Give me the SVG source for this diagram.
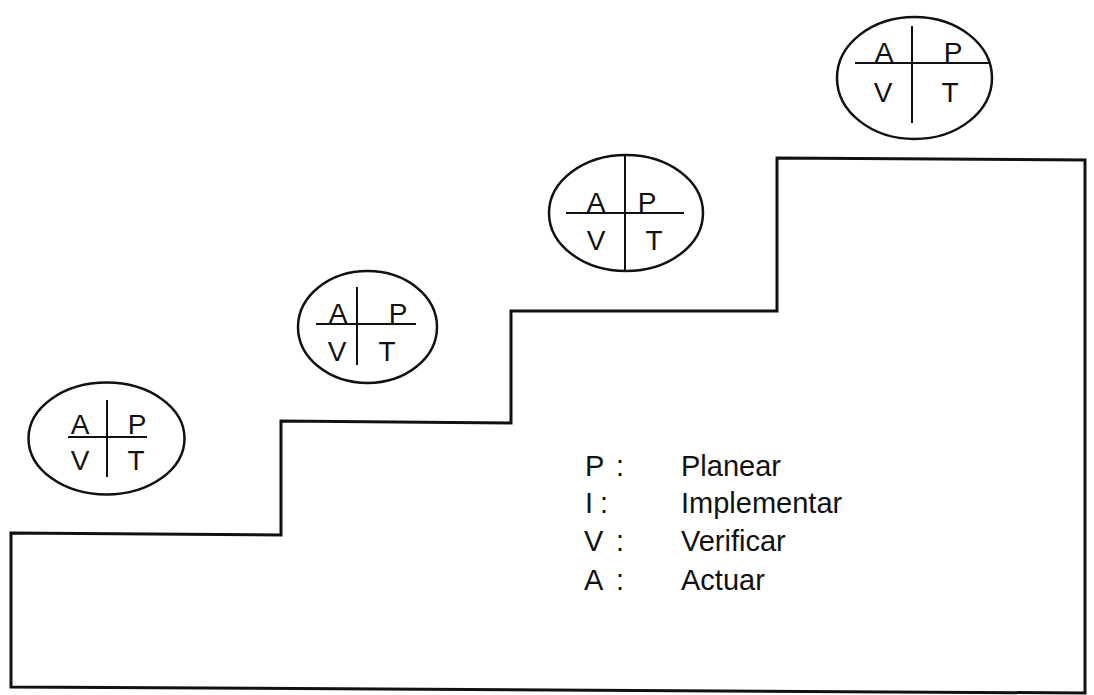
<svg xmlns="http://www.w3.org/2000/svg" width="1094" height="695" viewBox="0 0 1094 695">
<style>
.bg{fill:#fff}
.stair{fill:none;stroke:#111;stroke-width:3;stroke-linejoin:miter}
.ell{fill:none;stroke:#111;stroke-width:2.5}
.div{stroke:#111;stroke-width:2}
.q{font-family:"Liberation Sans",Arial,sans-serif;font-size:28px;fill:#111;text-anchor:middle}
.lg{font-family:"Liberation Sans",Arial,sans-serif;font-size:29px;fill:#111}
</style>
<rect class="bg" x="0" y="0" width="1094" height="695"/>
<g id="staircase">
<path class="stair" d="M11,533 L281,535 L281,421 L511,423 L511,311 L777,311 L777,158 L1085,160 L1085,693 L11,687 Z"/>
</g>
<g id="cycle1">
<ellipse class="ell" cx="106.5" cy="438.5" rx="78" ry="56"/>
<line class="div" x1="107" y1="400" x2="107" y2="477"/>
<line class="div" x1="68" y1="437" x2="147" y2="437"/>
<text class="q" x="80" y="434">A</text>
<text class="q" x="137" y="434">P</text>
<text class="q" x="80" y="470">V</text>
<text class="q" x="136" y="470">T</text>
</g>
<g id="cycle2">
<ellipse class="ell" cx="367.5" cy="327" rx="69.5" ry="56"/>
<line class="div" x1="357" y1="287" x2="357" y2="365"/>
<line class="div" x1="316" y1="324" x2="416" y2="324"/>
<text class="q" x="338" y="323">A</text>
<text class="q" x="398" y="323">P</text>
<text class="q" x="337" y="361">V</text>
<text class="q" x="387" y="361">T</text>
</g>
<g id="cycle3">
<ellipse class="ell" cx="626" cy="213" rx="77" ry="58"/>
<line class="div" x1="625" y1="155" x2="625" y2="271"/>
<line class="div" x1="566" y1="213" x2="684" y2="213"/>
<text class="q" x="596" y="212">A</text>
<text class="q" x="647" y="212">P</text>
<text class="q" x="596" y="250">V</text>
<text class="q" x="654" y="250">T</text>
</g>
<g id="cycle4">
<ellipse class="ell" cx="914.5" cy="78" rx="77.5" ry="61"/>
<line class="div" x1="912" y1="26" x2="912" y2="123"/>
<line class="div" x1="855" y1="63" x2="990" y2="63"/>
<text class="q" x="884" y="62">A</text>
<text class="q" x="953" y="62">P</text>
<text class="q" x="883" y="102">V</text>
<text class="q" x="950" y="102">T</text>
</g>
<g id="legend">
<text class="lg" x="585" y="476">P</text>
<text class="lg" x="616" y="476">:</text>
<text class="lg" x="681" y="476">Planear</text>
<text class="lg" x="585" y="513">I</text>
<text class="lg" x="600" y="513">:</text>
<text class="lg" x="681" y="513">Implementar</text>
<text class="lg" x="584" y="551">V</text>
<text class="lg" x="616" y="551">:</text>
<text class="lg" x="681" y="551">Verificar</text>
<text class="lg" x="584" y="590">A</text>
<text class="lg" x="616" y="590">:</text>
<text class="lg" x="681" y="590">Actuar</text>
</g>
</svg>
